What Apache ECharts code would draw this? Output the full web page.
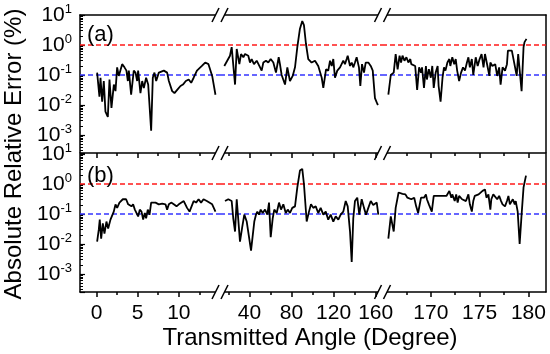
<!DOCTYPE html>
<html><head><meta charset="utf-8">
<script src="https://cdn.jsdelivr.net/npm/echarts@6/dist/echarts.min.js"></script>
<style>html,body{margin:0;padding:0;background:#fff}#c{width:550px;height:354px}</style>
</head><body><div id="c"></div>
<script>
// ---------------- data ([angle in degree, absolute relative error in %]) ----------------
const aSeg1 = [[0.08,0.12],[0.36,0.019],[0.49,0.08],[0.69,0.013],[0.89,0.063],[1.09,0.006],[1.38,0.004],[1.58,0.07],[1.82,0.008],[2.11,0.048],[2.31,0.029],[2.51,0.18],[2.71,0.093],[3.12,0.23],[3.40,0.18],[3.64,0.14],[3.81,0.063],[3.93,0.14],[4.21,0.022],[4.53,0.14],[4.74,0.12],[4.94,0.063],[5.06,0.14],[5.34,0.025],[5.55,0.063],[5.75,0.037],[6.03,0.081],[6.28,0.048],[6.64,0.0014],[6.84,0.081],[7.04,0.12],[7.25,0.063],[7.57,0.12],[8.18,0.14],[8.58,0.12],[8.79,0.063],[9.19,0.029],[9.47,0.025],[9.80,0.032],[10.2,0.043],[10.5,0.048],[10.85,0.063],[11.2,0.071],[11.5,0.055],[11.8,0.081],[12.2,0.14],[12.8,0.20],[13.2,0.26],[13.6,0.23],[13.8,0.26],[14.05,0.093],[14.45,0.022]];
const aSeg2 = [[16.1,0.20],[21.5,0.44],[23.1,0.85],[26.3,0.048],[27.9,0.74],[30.4,0.23],[32,0.50],[34.2,0.39],[35.8,0.50],[38.9,0.44],[40.5,0.26],[42.1,0.34],[44.3,0.23],[46.9,0.30],[49.4,0.20],[51.6,0.14],[53.2,0.26],[55.7,0.30],[57.9,0.26],[60.2,0.34],[62.7,0.26],[65.2,0.12],[67.8,0.39],[69,0.23],[70.6,0.10],[73.8,0.048],[76,0.18],[78.5,0.063],[81.1,0.093],[83.3,0.18],[85.5,0.85],[88,3.5],[90.2,6.3],[91.8,4.6],[93.7,1.1],[95.9,0.34],[99.1,0.26],[102.3,0.30],[105.4,0.20],[108.7,0.081],[110.2,0.037],[112.8,0.155],[114.9,0.14],[116.6,0.30],[118.2,0.20],[119.7,0.34],[121.3,0.081],[123.5,0.14],[126.1,0.18],[129.2,0.30],[130.8,0.23],[132.4,0.34],[133.4,0.44],[135.6,0.20],[137.2,0.26],[138.7,0.18],[140.3,0.26],[141.9,0.39],[144.1,0.18],[145.4,0.043],[147,0.23],[148.9,0.12],[150.5,0.26],[153,0.26],[155.3,0.20],[157.2,0.14],[159.3,0.017],[161.5,0.011],[162.2,0.010]];
const aSeg3 = [[165.65,0.022],[165.9,0.10],[166.2,0.12],[166.4,0.50],[166.6,0.155],[166.8,0.44],[166.95,0.26],[167.1,0.44],[167.3,0.30],[167.5,0.39],[167.7,0.26],[167.9,0.34],[168.0,0.23],[168.2,0.26],[168.4,0.20],[168.6,0.032],[168.8,0.18],[169.0,0.12],[169.1,0.18],[169.3,0.037],[169.5,0.20],[169.6,0.071],[169.8,0.155],[170.0,0.081],[170.15,0.20],[170.3,0.037],[170.5,0.12],[170.7,0.20],[170.8,0.043],[171.0,0.013],[171.2,0.081],[171.35,0.18],[171.5,0.14],[171.7,0.26],[171.9,0.34],[172.0,0.20],[172.2,0.39],[172.4,0.23],[172.55,0.34],[172.7,0.14],[172.9,0.063],[173.1,0.12],[173.3,0.18],[173.5,0.14],[173.7,0.26],[173.85,0.39],[174.0,0.18],[174.2,0.34],[174.35,0.10],[174.6,0.39],[174.8,0.20],[175.0,0.34],[175.2,0.50],[175.4,0.18],[175.55,0.50],[175.8,0.20],[176.0,0.093],[176.1,0.26],[176.3,0.20],[176.6,0.23],[176.8,0.093],[177.0,0.18],[177.15,0.048],[177.35,0.18],[177.6,0.14],[177.8,0.23],[177.9,0.65],[178.3,0.65],[178.4,0.44],[178.8,0.093],[178.95,0.50],[179.1,0.57],[179.3,0.029],[179.5,0.85],[179.6,1.25],[179.8,1.6]];
const bSeg1 = [[0.08,0.012],[0.28,0.030],[0.4,0.065],[0.57,0.015],[0.77,0.049],[0.97,0.022],[1.21,0.056],[1.42,0.033],[1.70,0.065],[1.9,0.056],[2.1,0.12],[2.31,0.21],[2.51,0.16],[2.79,0.24],[3.0,0.21],[3.2,0.31],[3.4,0.27],[3.6,0.31],[3.85,0.21],[4.05,0.24],[4.25,0.18],[4.45,0.21],[4.66,0.14],[4.86,0.16],[5.06,0.083],[5.26,0.14],[5.47,0.12],[5.67,0.065],[5.87,0.108],[6.03,0.072],[6.23,0.14],[6.44,0.094],[6.64,0.24],[6.84,0.21],[7.17,0.24],[7.57,0.21],[7.98,0.22],[8.38,0.21],[8.58,0.14],[8.79,0.21],[9.07,0.24],[9.39,0.21],[9.72,0.18],[10.0,0.21],[10.6,0.27],[11.0,0.16],[11.3,0.12],[11.8,0.27],[12.1,0.24],[12.4,0.31],[12.7,0.24],[13.0,0.31],[13.4,0.27],[13.6,0.31],[14.05,0.21],[14.45,0.12]];
const bSeg2 = [[16.75,0.27],[19.9,0.31],[23.1,0.27],[24.6,0.072],[26.3,0.026],[27.9,0.31],[29.4,0.31],[31,0.012],[33.2,0.038],[35.1,0.095],[37.4,0.056],[39.6,0.017],[41.5,0.006],[43.1,0.0053],[44.6,0.056],[46.2,0.095],[47.5,0.12],[49.1,0.095],[50.7,0.14],[52.6,0.108],[54.8,0.14],[57.0,0.095],[58.6,0.24],[60.2,0.017],[62.1,0.072],[63.6,0.14],[65.9,0.108],[68.1,0.24],[70.0,0.14],[72.2,0.21],[74.5,0.108],[76.4,0.14],[78.5,0.108],[80.7,0.16],[83.3,0.18],[85.5,0.77],[88.0,2.8],[90.2,3.2],[91.8,1.0],[94.4,0.056],[96.6,0.12],[98.5,0.21],[100.7,0.16],[103.0,0.18],[105.4,0.108],[107.7,0.16],[110.2,0.095],[112.5,0.12],[114.9,0.065],[117.2,0.095],[119.7,0.056],[122,0.083],[124.5,0.065],[126.7,0.095],[129.2,0.12],[131.5,0.27],[133.4,0.18],[135.6,0.026],[137.2,0.0025],[138.7,0.072],[140.3,0.27],[142.5,0.35],[144.4,0.095],[146.7,0.31],[148.9,0.16],[150.8,0.095],[153,0.16],[155.3,0.27],[157.7,0.20],[161,0.24],[162.5,0.095]];
const bSeg3 = [[165.65,0.015],[165.9,0.083],[166.2,0.026],[166.4,0.16],[166.7,0.52],[166.9,0.52],[167.1,0.47],[167.4,0.45],[167.6,0.35],[167.8,0.40],[168.0,0.31],[168.3,0.35],[168.5,0.18],[168.7,0.108],[169.0,0.35],[169.1,0.31],[169.3,0.35],[169.5,0.45],[169.6,0.31],[169.8,0.21],[170.1,0.12],[170.3,0.40],[170.6,0.40],[170.9,0.40],[171.3,0.40],[171.6,0.40],[171.9,0.59],[172.1,0.35],[172.2,0.45],[172.45,0.27],[172.6,0.45],[172.75,0.24],[172.9,0.40],[173.2,0.31],[173.4,0.35],[173.6,0.27],[173.85,0.45],[174.0,0.21],[174.2,0.12],[174.35,0.27],[174.5,0.40],[174.7,0.35],[174.9,0.45],[175.0,0.40],[175.3,0.59],[175.55,0.66],[175.7,0.35],[175.9,0.45],[176.1,0.14],[176.2,0.31],[176.4,0.45],[176.6,0.40],[176.8,0.31],[177.0,0.40],[177.2,0.27],[177.35,0.21],[177.6,0.18],[177.8,0.27],[177.95,0.40],[178.1,0.21],[178.4,0.31],[178.6,0.21],[178.7,0.27],[178.9,0.12],[179.1,0.010],[179.3,0.095],[179.5,0.77],[179.75,1.9]];

// reference levels (%) and their colours
const refLevels = [1, 0.1];
const refColors = ['#ff1a1a', '#3535ff'];

// axis segments (broken x axis) and tick values
const segMin = [-2, 12, 165];
const segMax = [15, 166, 181.8];
const majorTicks = [[0, 5, 10], [40, 80, 120, 160], [170, 175, 180]];
const minorTicks = [[2.5, 7.5, 12.5], [20, 60, 100, 140], [167.5, 172.5, 177.5]];
const yMin = Math.pow(10, -3.6);
const yMax = 10;
const panelLabels = ['(a)', '(b)'];
const yTitle = 'Absolute Relative Error (%)';
const xTitle = 'Transmitted Angle (Degree)';

// ---------------- layout ----------------
const FONT = "'Liberation Sans', Arial, sans-serif";
const panelTop = [15, 154];
const panelH = [138, 138];
const segLeft = [80, 220, 382];
const segW = [140, 162, 164];
const panelData = [[aSeg1, aSeg2, aSeg3], [bSeg1, bSeg2, bSeg3]];

const grid = [], xAxis = [], yAxis = [], series = [];
const axisLine = {show: true, onZero: false, lineStyle: {color: '#000', width: 1.5}};

for (let p = 0; p < 2; p++) {
  for (let s = 0; s < 3; s++) {
    const g = grid.length;
    grid.push({left: segLeft[s], top: panelTop[p], width: segW[s], height: panelH[p], containLabel: false});
    const xMain = xAxis.length;
    xAxis.push({
      gridIndex: g, type: 'value', min: segMin[s], max: segMax[s], position: 'bottom',
      axisLine: axisLine,
      axisTick: {show: true, inside: false, length: 5, customValues: majorTicks[s], lineStyle: {color: '#000', width: 1.5}},
      axisLabel: {show: p === 1, customValues: majorTicks[s], margin: 11, color: '#000', fontSize: 21, fontFamily: FONT},
      splitLine: {show: false}
    });
    xAxis.push({
      gridIndex: g, type: 'value', min: segMin[s], max: segMax[s], position: 'bottom',
      axisLine: {show: false, onZero: false},
      axisTick: {show: true, inside: false, length: 3, customValues: minorTicks[s], lineStyle: {color: '#000', width: 1.5}},
      axisLabel: {show: false}, splitLine: {show: false}
    });
    xAxis.push({
      gridIndex: g, type: 'value', min: segMin[s], max: segMax[s], position: 'top',
      axisLine: {show: p === 0, onZero: false, lineStyle: {color: '#000', width: 1.5}},
      axisTick: {show: false}, axisLabel: {show: false}, splitLine: {show: false}
    });
    const yMain = yAxis.length;
    yAxis.push({
      gridIndex: g, type: 'log', logBase: 10, min: yMin, max: yMax, position: 'left',
      axisLine: {show: s === 0, onZero: false, lineStyle: {color: '#000', width: 1.5}},
      axisTick: {show: s === 0, inside: true, length: 5, lineStyle: {color: '#000', width: 1.2}},
      minorTick: {show: s === 0, splitNumber: 9, length: 3, lineStyle: {color: '#000', width: 1}},
      axisLabel: {
        show: s === 0, showMinLabel: false, margin: 8, color: '#000', fontFamily: FONT,
        formatter: function (v) {
          const l = Math.log10(v), e = Math.round(l);
          if (Math.abs(l - e) > 1e-6) return '';
          return '{b|10}{s|' + e + '}';
        },
        rich: {
          b: {fontSize: 21, fontFamily: FONT, color: '#000'},
          s: {fontSize: 13, fontFamily: FONT, color: '#000', padding: [0, 0, 12, 0]}
        }
      },
      splitLine: {show: false}
    });
    yAxis.push({
      gridIndex: g, type: 'log', logBase: 10, min: yMin, max: yMax, position: 'right',
      axisLine: {show: s === 2, onZero: false, lineStyle: {color: '#000', width: 1.5}},
      axisTick: {show: false}, axisLabel: {show: false}, splitLine: {show: false}
    });
    // reference dashed levels: one carrier series per level
    refLevels.forEach(function (lv, k) {
      series.push({
        type: 'line', xAxisIndex: xMain, yAxisIndex: yMain, data: [],
        symbol: 'none', silent: true, z: 3,
        lineStyle: {color: refColors[k]}, itemStyle: {color: refColors[k]},
        markLine: {
          silent: true, symbol: ['none', 'none'], label: {show: false}, animation: false,
          emphasis: {disabled: true},
          lineStyle: {type: [5, 3], width: 1.5, color: refColors[k]},
          data: [{yAxis: lv}]
        }
      });
    });
    series.push({
      type: 'line', xAxisIndex: xMain, yAxisIndex: yMain, data: panelData[p][s],
      symbol: 'none', showSymbol: false, clip: true,
      lineStyle: {color: '#000', width: 1.8}, z: 5
    });
  }
}

// ---------------- decorations: texts and axis-break marks ----------------
const graphic = [];
graphic.push({type: 'text', x: 87, y: 35, z: 50, style: {text: panelLabels[0], fontSize: 22, fontFamily: FONT, fill: '#000', verticalAlign: 'middle'}});
graphic.push({type: 'text', x: 87, y: 176, z: 50, style: {text: panelLabels[1], fontSize: 22, fontFamily: FONT, fill: '#000', verticalAlign: 'middle'}});
graphic.push({type: 'text', x: 14, y: 154, rotation: Math.PI / 2, z: 50, style: {text: yTitle, fontSize: 24, fontFamily: FONT, fill: '#000', align: 'center', verticalAlign: 'middle'}});
graphic.push({type: 'text', x: 310, y: 338, z: 50, style: {text: xTitle, fontSize: 24, fontFamily: FONT, fill: '#000', align: 'center', verticalAlign: 'middle'}});
const breakX = [220, 382.5];
const breakY = [15, 153, 292];
breakX.forEach(function (cx) {
  breakY.forEach(function (cy) {
    graphic.push({type: 'rect', z: 60, shape: {x: cx - 4.5, y: cy - 2.5, width: 9, height: 5}, style: {fill: '#fff'}});
    graphic.push({type: 'line', z: 61, shape: {x1: cx - 8, y1: cy + 7, x2: cx - 1, y2: cy - 7}, style: {stroke: '#000', lineWidth: 1.5}});
    graphic.push({type: 'line', z: 61, shape: {x1: cx + 1, y1: cy + 7, x2: cx + 8, y2: cy - 7}, style: {stroke: '#000', lineWidth: 1.5}});
  });
});

const chart = echarts.init(document.getElementById('c'), null, {renderer: 'canvas'});
chart.setOption({
  animation: false,
  backgroundColor: '#fff',
  grid: grid, xAxis: xAxis, yAxis: yAxis, series: series, graphic: graphic
});
</script>
</body></html>
